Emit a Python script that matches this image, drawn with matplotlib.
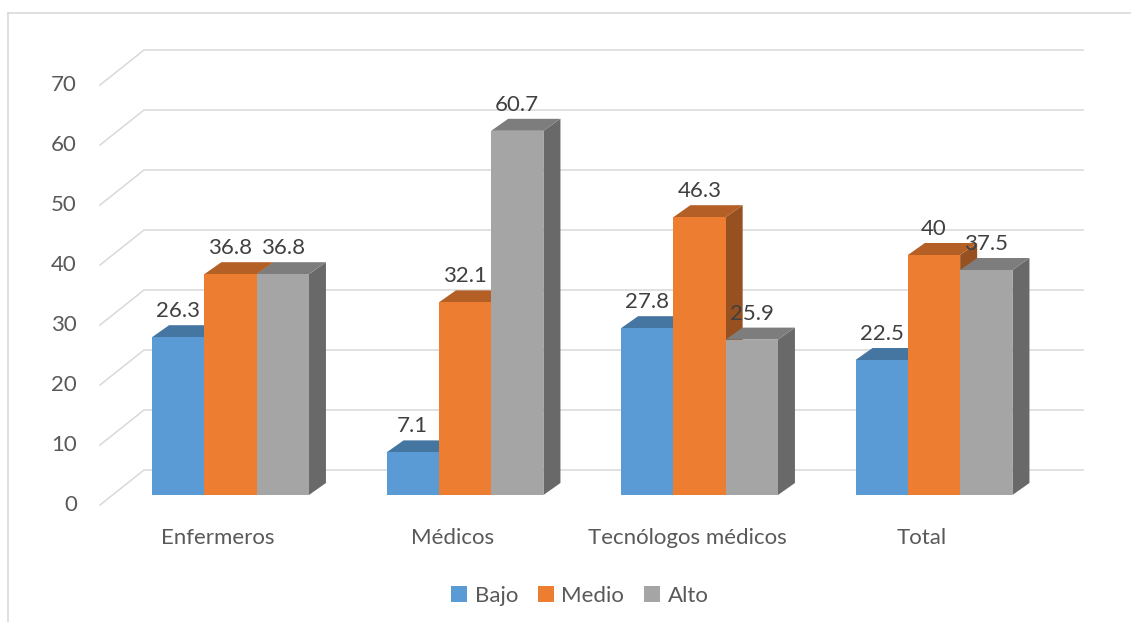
import matplotlib
matplotlib.use("Agg")
import matplotlib.pyplot as plt
from matplotlib.patches import Polygon, Rectangle
from matplotlib.lines import Line2D

plt.rcParams['font.family'] = ['Lato', 'DejaVu Sans']

categories = ["Enfermeros", "Médicos", "Tecnólogos médicos", "Total"]
series_names = ["Bajo", "Medio", "Alto"]
bajo = [26.3, 7.1, 27.8, 22.5]
medio = [36.8, 32.1, 46.3, 40.0]
alto = [36.8, 60.7, 25.9, 37.5]
value_labels = [["26.3", "7.1", "27.8", "22.5"],
                ["36.8", "32.1", "46.3", "40"],
                ["36.8", "60.7", "25.9", "37.5"]]
yticks = [0, 10, 20, 30, 40, 50, 60, 70]

front_colors = ["#5B9BD5", "#ED7D31", "#A5A5A5"]


def shade(hex_color, f):
    r, g, b = (int(hex_color[i:i + 2], 16) for i in (1, 3, 5))
    return "#%02x%02x%02x" % (int(r * f), int(g * f), int(b * f))


W, H = 1131, 622
fig = plt.figure(figsize=(W / 100, H / 100), dpi=100)
ax = fig.add_axes([0, 0, 1, 1])

# scale: pixels per category unit / per value unit
PX_X, PX_Y = 234.5, 6.0
X0_PX, BASE_PX = 230.5, 495.0   # first group centre, bar base (from top)
ax.set_xlim(-X0_PX / PX_X, (W - X0_PX) / PX_X)
ax.set_ylim(-(H - BASE_PX) / PX_Y, BASE_PX / PX_Y)
ax.axis('off')


def ux(px):
    return px / PX_X


def uy(px):
    return px / PX_Y


FS = 16

# 3-D wall gridlines
wall_front_x = ux(100 - X0_PX)
wall_back_x = ux(144 - X0_PX)
wall_end_x = ux(1083 - X0_PX)
grid_col = "#d9d9d9"
for v in yticks:
    yf = v - uy(10)
    yb = v + uy(25)
    ax.plot([wall_front_x, wall_back_x, wall_end_x], [yf, yb, yb],
            color=grid_col, lw=1.1, zorder=1, solid_joinstyle='miter')
    ax.text(ux(77 - X0_PX), yf, str(v), ha='right', va='center',
            fontsize=FS, color="#595959")

# 3-D bars
bw = ux(52.3)
ddx, ddy = ux(17), uy(12)
series = [bajo, medio, alto]
z = 2
for i in range(len(categories)):
    for s, vals in enumerate(series):
        v = vals[i]
        xl = i + (s - 1.5) * bw
        fc = front_colors[s]
        side = Polygon([(xl + bw, 0), (xl + bw + ddx, ddy),
                        (xl + bw + ddx, v + ddy), (xl + bw, v)],
                       closed=True, fc=shade(fc, 0.64), ec='none', zorder=z)
        top = Polygon([(xl, v), (xl + bw, v), (xl + bw + ddx, v + ddy),
                       (xl + ddx, v + ddy)],
                      closed=True, fc=shade(fc, 0.76), ec='none', zorder=z)
        ax.add_patch(side)
        ax.add_patch(top)
        ax.add_patch(Rectangle((xl, 0), bw, v, fc=fc, ec='none', zorder=z))
        z += 1
        ax.text(xl + bw / 2, v + uy(26), value_labels[s][i], ha='center',
                va='center', fontsize=FS, color="#404040", zorder=50)

for i, c in enumerate(categories):
    ax.text(i - ux(12.5), uy(-43), c, ha='center', va='center',
            fontsize=FS, color="#595959")

# legend
handles = [Rectangle((0, 0), 1, 1, fc=c, ec='none') for c in front_colors]
leg = fig.legend(handles, series_names, loc='center', ncol=3,
                 bbox_to_anchor=(580 / W, 1 - 596 / H), frameon=False,
                 fontsize=FS, handlelength=0.7, handleheight=0.7,
                 handletextpad=0.35, columnspacing=0.9, labelcolor="#595959")

# outer frame
fig.add_artist(Line2D([8 / W, 1], [1 - 13 / H, 1 - 13 / H], color="#d9d9d9", lw=1.2))
fig.add_artist(Line2D([8 / W, 8 / W], [0, 1 - 13 / H], color="#d9d9d9", lw=1.2))

fig.savefig("out.png", dpi=100, facecolor="white")
